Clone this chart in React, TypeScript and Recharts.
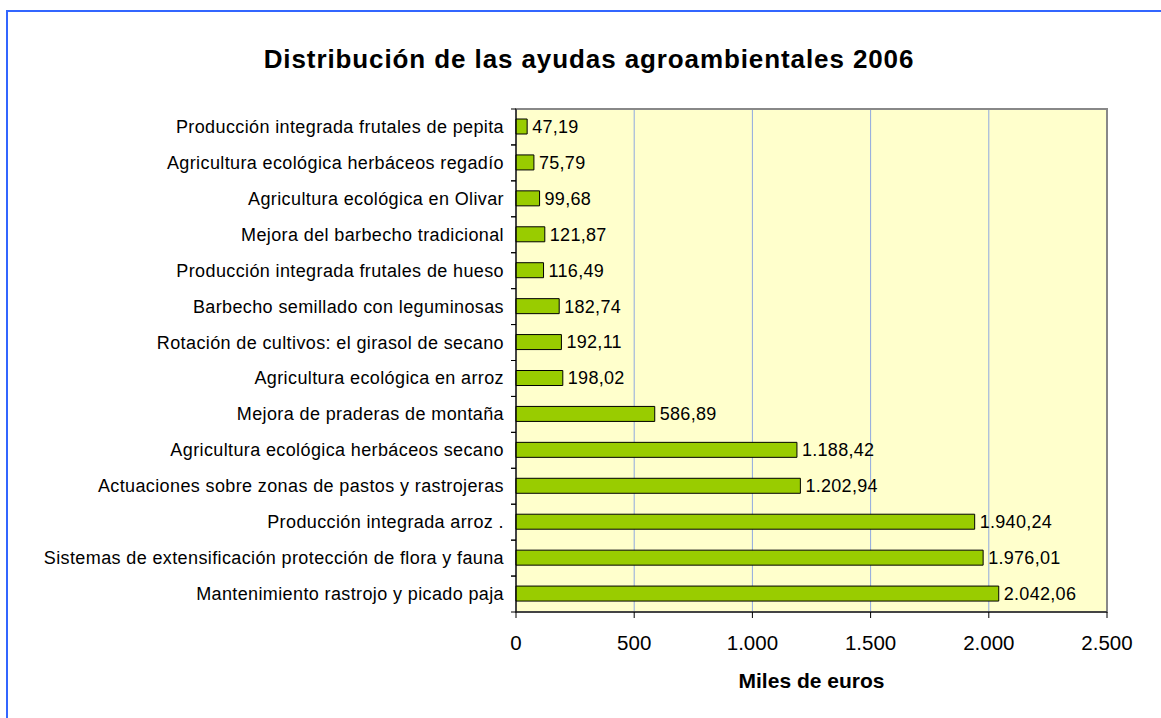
import { BarChart, Bar, XAxis, YAxis, CartesianGrid, LabelList, ReferenceArea } from 'recharts';

const categories = [
  'Producción integrada frutales de pepita',
  'Agricultura ecológica herbáceos regadío',
  'Agricultura ecológica en Olivar',
  'Mejora del barbecho tradicional',
  'Producción integrada frutales de hueso',
  'Barbecho semillado con leguminosas',
  'Rotación de cultivos: el girasol de secano',
  'Agricultura ecológica en arroz',
  'Mejora de praderas de montaña ',
  'Agricultura ecológica herbáceos secano',
  'Actuaciones sobre zonas de pastos y rastrojeras',
  'Producción integrada arroz .',
  'Sistemas de extensificación protección de flora y fauna',
  'Mantenimiento rastrojo y picado paja',
];

const values = [47.19, 75.79, 99.68, 121.87, 116.49, 182.74, 192.11, 198.02, 586.89, 1188.42, 1202.94, 1940.24, 1976.01, 2042.06];

const xTicks = [0, 500, 1000, 1500, 2000, 2500];

const data = categories.map((name, i) => ({ name, value: values[i] }));

const FONT = '"Liberation Sans", Arial, sans-serif';
const PLOT_TOP = 109;
const PLOT_BOTTOM = 612;
const BAND = (PLOT_BOTTOM - PLOT_TOP) / categories.length;

// Spanish number format: 1.234,56
const fmtEs = (v: number, decimals: number) => {
  const [intPart, dec] = v.toFixed(decimals).split('.');
  const withDots = intPart.replace(/\B(?=(\d{3})+(?!\d))/g, '.');
  return dec ? `${withDots},${dec}` : withDots;
};

// Category label plus tick marks on the band boundaries (Excel style)
const CategoryTick = (props: any) => {
  const { x, y, payload } = props;
  const axisX = 516;
  return (
    <g>
      <line x1={axisX - 5} x2={axisX} y1={y - BAND / 2} y2={y - BAND / 2} stroke="#000" />
      <line x1={axisX - 5} x2={axisX} y1={y + BAND / 2} y2={y + BAND / 2} stroke="#000" />
      <text
        x={x - 4}
        y={y}
        dy={6}
        textAnchor="end"
        fill="#000"
        fontSize={18}
        fontFamily={FONT}
        style={{ letterSpacing: '0.38px' }}
      >
        {payload.value}
      </text>
    </g>
  );
};

export default function App() {
  return (
    <div style={{ position: 'absolute', left: 0, top: 0, width: 1161, height: 718, overflow: 'hidden', background: '#fff' }}>
      <div
        style={{
          position: 'absolute',
          left: 6,
          top: 10,
          width: 1200,
          height: 760,
          borderLeft: '2px solid #3366FF',
          borderTop: '2px solid #3366FF',
        }}
      />
      <div
        style={{
          position: 'absolute',
          left: 0,
          width: 1178,
          top: 44,
          textAlign: 'center',
          fontFamily: FONT,
          fontWeight: 'bold',
          fontSize: 26,
          letterSpacing: '0.9px',
          color: '#000',
        }}
      >
        Distribución de las ayudas agroambientales 2006
      </div>
      <div
        style={{
          position: 'absolute',
          left: 516,
          width: 591,
          top: 669,
          textAlign: 'center',
          fontFamily: FONT,
          fontWeight: 'bold',
          fontSize: 21,
          color: '#000',
        }}
      >
        Miles de euros
      </div>
      <div style={{ position: 'absolute', left: 0, top: 0 }}>
        <BarChart
          width={1161}
          height={718}
          data={data}
          layout="vertical"
          margin={{ top: PLOT_TOP, right: 54, bottom: 718 - PLOT_BOTTOM - 50, left: 0 }}
          barSize={15}
        >
          <CartesianGrid horizontal={false} stroke="#8FA8E0" fill="#FFFFCC" />
          <ReferenceArea x1={0} x2={2500} fill="none" stroke="#888888" strokeWidth={2} ifOverflow="visible" />
          <XAxis
            type="number"
            domain={[0, 2500]}
            ticks={xTicks}
            interval={0}
            height={50}
            tickSize={6}
            tickFormatter={(v: number) => fmtEs(v, 0)}
            tick={{ fill: '#000', fontSize: 20.5, fontFamily: FONT }}
            axisLine={{ stroke: '#000' }}
            tickLine={{ stroke: '#000' }}
            tickMargin={17}
          />
          <YAxis
            type="category"
            dataKey="name"
            width={516}
            interval={0}
            axisLine={{ stroke: '#000' }}
            tickLine={false}
            tick={<CategoryTick />}
          />
          <Bar dataKey="value" fill="#99CC00" stroke="#000" strokeWidth={1} isAnimationActive={false}>
            <LabelList
              dataKey="value"
              position="right"
              offset={5}
              formatter={(v: any) => fmtEs(Number(v), 2)}
              style={{ fill: '#000', fontSize: 18, fontFamily: FONT, letterSpacing: '0.3px' }}
            />
          </Bar>
        </BarChart>
      </div>
    </div>
  );
}
